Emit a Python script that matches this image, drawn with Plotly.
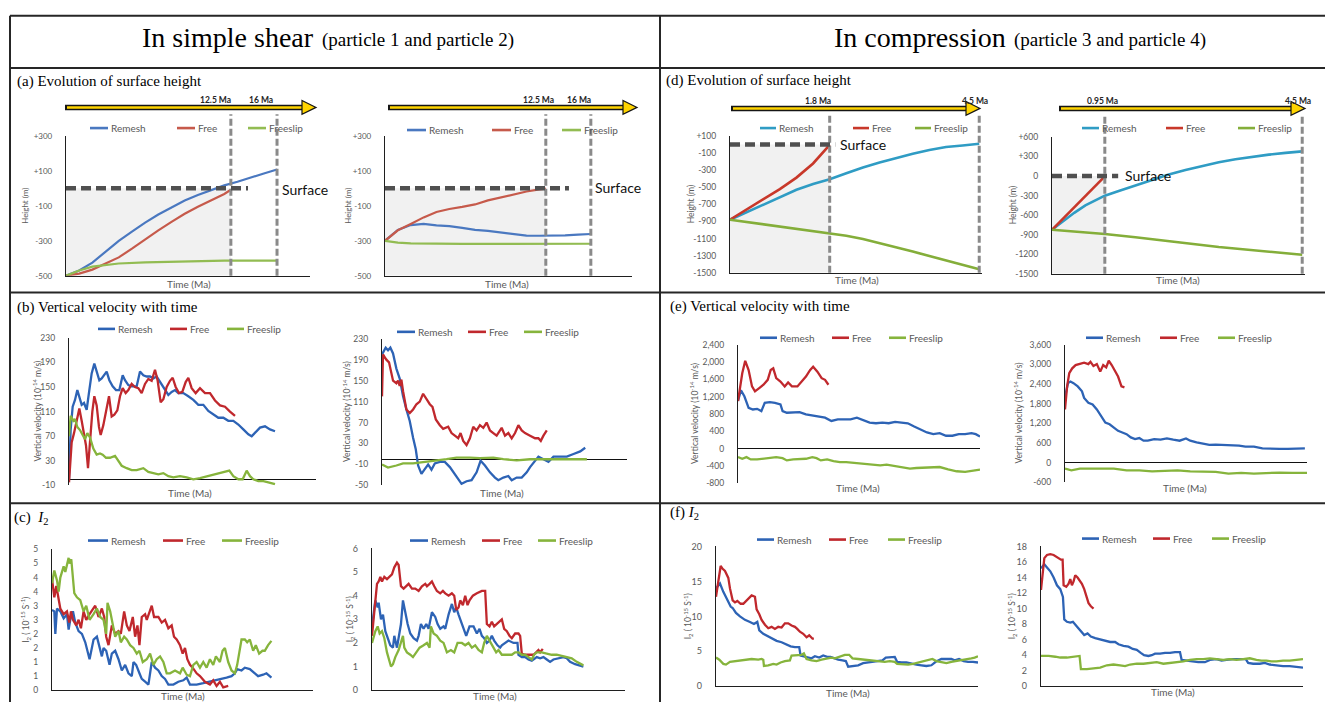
import plotly.graph_objects as go

W, H = 1325, 707
SANS = "Lato, 'Open Sans', sans-serif"
SERIF = "'Liberation Serif', 'Times New Roman', serif"
GREY = "#595959"
AXIS = "#1f1f1f"
FRAME = "#262626"
NAMES = ["Remesh", "Free", "Freeslip"]

# ======================= DATA =======================
# (a) surface height, simple shear, particle 1  (time in Ma, height in m)
A1_REMESH_T = [0, 1, 2, 3, 4, 5, 6, 7, 8, 9, 10, 11, 12, 13, 14, 15, 16]
A1_REMESH_H = [-500, -470, -425, -360, -300, -248, -196, -150, -108, -70, -38, -10, 17, 38, 63, 85, 108]
A1_FREE_T = [0, 1, 2, 3, 4, 5, 6, 7, 8, 9, 10, 11, 12, 12.5]
A1_FREE_H = [-500, -488, -465, -432, -395, -345, -290, -240, -192, -145, -105, -70, -32, -8]
A1_FREESLIP_T = [0, 1, 2, 3, 4, 6, 8, 10, 12, 14, 16]
A1_FREESLIP_H = [-500, -470, -448, -437, -430, -424, -420, -417, -414, -413, -414]
A1_EVENTS = [12.5, 16]
A1_EVENT_LABELS = ["12.5 Ma", "16 Ma"]

# (a) particle 2
A2_REMESH_T = [0, 1, 2, 3, 4, 5, 6, 7, 8, 9, 10, 11, 12, 13, 14, 15, 16]
A2_REMESH_H = [-300, -238, -210, -203, -212, -216, -226, -238, -243, -252, -262, -270, -271, -271, -269, -265, -261]
A2_FREE_T = [0, 1, 2, 3, 4, 5, 6, 7, 8, 9, 10, 11, 12, 12.5]
A2_FREE_H = [-300, -240, -204, -166, -135, -118, -106, -92, -69, -51, -36, -18, -6, -1]
A2_FREESLIP_T = [0, 1, 2, 4, 6, 8, 10, 12, 14, 16]
A2_FREESLIP_H = [-300, -310, -315, -318, -318, -318, -317, -317, -317, -317]
A2_EVENTS = [12.5, 16]
A2_EVENT_LABELS = ["12.5 Ma", "16 Ma"]

# (d) surface height, compression, particle 3
D1_REMESH_T = [0, 0.3, 0.6, 0.9, 1.2, 1.5, 1.8, 2.1, 2.4, 2.7, 3.0, 3.3, 3.6, 3.9, 4.2, 4.5]
D1_REMESH_H = [-880, -790, -702, -613, -530, -462, -407, -337, -268, -210, -157, -107, -65, -30, -11, 8]
D1_FREE_T = [0, 0.3, 0.6, 0.9, 1.2, 1.5, 1.8]
D1_FREE_H = [-880, -760, -637, -521, -387, -222, -4]
D1_FREESLIP_T = [0, 0.6, 1.2, 1.8, 2.1, 2.4, 2.7, 3.0, 3.3, 3.6, 3.9, 4.2, 4.5]
D1_FREESLIP_H = [-880, -932, -982, -1036, -1067, -1105, -1151, -1201, -1251, -1305, -1355, -1405, -1458]
D1_EVENTS = [1.8, 4.5]
D1_EVENT_LABELS = ["1.8 Ma", "4.5 Ma"]

# (d) particle 4
D2_REMESH_T = [0, 0.2, 0.4, 0.6, 0.8, 0.95, 1.2, 1.5, 1.8, 2.1, 2.4, 2.7, 3.0, 3.3, 3.6, 3.9, 4.2, 4.5]
D2_REMESH_H = [-825, -690, -565, -450, -360, -302, -229, -142, -56, 22, 91, 156, 213, 258, 296, 328, 355, 379]
D2_FREE_T = [0, 0.2, 0.4, 0.6, 0.8, 0.95]
D2_FREE_H = [-825, -650, -475, -300, -135, -5]
D2_FREESLIP_T = [0, 0.95, 1.5, 2.0, 2.5, 3.0, 3.5, 4.0, 4.5]
D2_FREESLIP_H = [-825, -890, -940, -985, -1040, -1090, -1130, -1170, -1208]
D2_EVENTS = [0.95, 4.5]
D2_EVENT_LABELS = ["0.95 Ma", "4.5 Ma"]

# (b) vertical velocity (1e-14 m/s), particle 1 (time in model steps)
B1_REMESH_T = [0, 5, 11, 18, 25, 30, 38, 45, 53, 61, 68, 76, 83, 91, 98, 106, 113, 121, 131, 141, 151, 161, 168, 178, 188, 203, 213, 223, 233, 243, 253, 263, 273, 288, 298, 308, 318, 328, 343, 358, 373, 388, 403, 418, 433, 448, 463, 478, 493, 508, 523, 538, 548, 558, 573, 588, 603, 618]
B1_REMESH_V = [0, 81, 118, 129, 145, 135, 121, 124, 113, 145, 172, 188, 175, 161, 164, 169, 175, 161, 151, 145, 145, 169, 161, 153, 151, 151, 175, 169, 167, 167, 164, 167, 159, 145, 137, 142, 145, 140, 140, 135, 129, 121, 121, 111, 105, 100, 100, 95, 95, 89, 81, 73, 70, 76, 84, 86, 81, 78]
B1_FREE_T = [0, 4, 8, 15, 23, 31, 38, 45, 51, 57, 63, 70, 76, 83, 90, 95, 103, 111, 120, 128, 136, 145, 153, 161, 170, 178, 188, 198, 208, 218, 228, 238, 248, 258, 266, 275, 283, 293, 303, 311, 320, 330, 340, 350, 358, 368, 380, 393, 408, 423, 438, 453, 468, 483, 498]
B1_FREE_V = [-5, 40, 60, 75, 95, 115, 95, 75, 55, 18, 60, 110, 135, 120, 85, 72, 88, 112, 135, 102, 105, 112, 135, 148, 140, 145, 155, 150, 148, 140, 155, 163, 160, 178, 160, 125, 130, 150, 160, 165, 150, 140, 142, 158, 165, 148, 140, 148, 140, 140, 128, 120, 118, 110, 103]
B1_FREESLIP_T = [0, 5, 13, 18, 25, 33, 41, 48, 55, 63, 73, 83, 93, 101, 111, 123, 138, 148, 158, 173, 188, 203, 223, 238, 253, 268, 283, 298, 313, 333, 353, 373, 393, 413, 433, 453, 481, 493, 508, 521, 533, 543, 553, 568, 583, 598, 618]
B1_FREESLIP_V = [70, 103, 95, 98, 85, 80, 72, 65, 75, 68, 50, 40, 42, 40, 35, 35, 38, 30, 22, 18, 15, 15, 18, 12, 10, 8, 10, 5, 3, 5, 3, 0, 2, 5, 8, 10, 14, 5, 0, 0, 14, 5, 0, -3, -3, -5, -8]

# (b) particle 2
B2_REMESH_T = [0, 11, 18, 25, 33, 43, 53, 63, 73, 83, 93, 101, 108, 118, 128, 138, 148, 158, 173, 188, 203, 218, 228, 238, 253, 268, 283, 295, 308, 323, 338, 348, 363, 378, 388, 403, 418, 433, 443, 455, 468, 483, 498, 513, 533, 553, 573, 593, 608]
B2_REMESH_V = [200, 213, 208, 213, 202, 173, 154, 120, 95, 73, 41, 19, -12, -28, -19, -10, -20, -8, -5, -5, -15, -28, -38, -47, -42, -40, -25, -3, -12, -25, -35, -40, -35, -32, -40, -35, -35, -25, -15, -5, 5, 0, -5, 5, 5, 5, 10, 15, 22]
B2_FREE_T = [0, 3, 8, 13, 21, 28, 33, 43, 48, 53, 58, 63, 73, 83, 93, 103, 113, 123, 133, 143, 151, 161, 173, 183, 198, 208, 218, 228, 235, 243, 253, 263, 273, 283, 293, 303, 313, 323, 333, 343, 358, 368, 378, 388, 398, 408, 418, 428, 443, 458, 468, 475, 483, 493]
B2_FREE_V = [120, 200, 195, 190, 185, 165, 150, 145, 150, 140, 152, 130, 95, 88, 95, 105, 110, 125, 115, 105, 100, 76, 65, 58, 62, 50, 45, 40, 50, 35, 27, 40, 62, 55, 65, 60, 70, 55, 50, 45, 60, 45, 50, 40, 50, 65, 55, 50, 45, 40, 40, 35, 45, 55]
B2_FREESLIP_T = [0, 18, 43, 63, 93, 123, 153, 193, 223, 263, 293, 333, 363, 403, 443, 483, 523, 563, 613]
B2_FREESLIP_V = [-10, -16, -12, -8, -8, -5, -3, 0, 3, 3, 2, 3, 0, -2, 0, 0, 0, 0, 0]

# (e) vertical velocity, particle 3
E1_REMESH_T = [0, 7, 15, 25, 35, 45, 55, 63, 75, 87, 100, 105, 115, 130, 145, 160, 175, 190, 205, 220, 235, 250, 265, 280, 295, 310, 325, 340, 355, 370, 385, 400, 415, 430, 445, 460, 475, 490, 505, 520, 535, 550, 560, 570]
E1_REMESH_V = [1100, 1350, 1210, 944, 906, 920, 868, 1058, 1073, 1058, 1020, 868, 830, 830, 845, 792, 770, 739, 716, 641, 679, 679, 679, 716, 663, 603, 588, 603, 588, 618, 603, 588, 512, 451, 375, 337, 360, 300, 300, 337, 337, 360, 337, 284]
E1_FREE_T = [0, 5, 10, 17, 25, 33, 40, 50, 60, 70, 77, 83, 90, 100, 110, 118, 127, 140, 150, 160, 170, 177, 187, 197, 205, 213]
E1_FREE_V = [1100, 1437, 1740, 2028, 1816, 1437, 1323, 1399, 1475, 1589, 1816, 1854, 1627, 1551, 1437, 1528, 1437, 1437, 1551, 1664, 1816, 1892, 1778, 1627, 1589, 1475]
E1_FREESLIP_T = [0, 10, 20, 30, 45, 60, 75, 90, 105, 115, 130, 145, 160, 175, 185, 195, 210, 225, 240, 255, 270, 285, 305, 320, 335, 350, 370, 390, 405, 420, 435, 455, 475, 495, 515, 535, 555, 570]
E1_FREESLIP_V = [-193, -231, -193, -246, -246, -231, -216, -193, -216, -269, -246, -246, -231, -193, -216, -269, -246, -284, -307, -307, -322, -345, -368, -383, -383, -368, -398, -436, -459, -444, -436, -436, -421, -474, -519, -534, -497, -482]

# (e) particle 4
E2_REMESH_T = [0, 2, 7, 13, 20, 30, 40, 45, 55, 65, 75, 85, 95, 105, 115, 125, 135, 145, 155, 165, 175, 185, 195, 210, 225, 240, 255, 270, 285, 295, 310, 325, 340, 355, 375, 395, 410, 425, 445, 465, 485, 505, 525, 545, 565]
E2_REMESH_V = [1900, 2126, 2427, 2477, 2427, 2327, 2177, 1976, 1826, 1776, 1625, 1425, 1224, 1174, 1074, 974, 924, 873, 773, 723, 753, 673, 673, 723, 703, 743, 703, 673, 743, 673, 623, 573, 543, 553, 543, 553, 523, 493, 493, 442, 422, 422, 422, 422, 442]
E2_FREE_T = [0, 5, 10, 17, 25, 35, 45, 55, 60, 67, 75, 83, 90, 97, 103, 110, 117, 125, 133, 140]
E2_FREE_V = [1625, 2327, 2728, 2878, 2978, 3008, 3049, 3008, 3078, 2948, 3008, 2778, 2978, 2908, 3109, 2978, 2828, 2628, 2327, 2297]
E2_FREESLIP_T = [0, 15, 35, 55, 85, 115, 145, 175, 205, 235, 265, 295, 325, 355, 385, 415, 445, 475, 505, 535, 570]
E2_FREESLIP_V = [-179, -229, -179, -179, -159, -179, -229, -229, -259, -249, -229, -259, -279, -279, -329, -309, -329, -309, -299, -309, -309]

# (c) I2 (1e-15 s^-1), particle 1
C1_REMESH_T = [0, 7, 10, 15, 25, 35, 45, 50, 55, 63, 70, 80, 90, 100, 113, 125, 135, 143, 150, 155, 163, 173, 180, 190, 200, 210, 220, 230, 240, 245, 253, 263, 270, 280, 290, 300, 310, 320, 330, 340, 350, 365, 380, 395, 405, 415, 435, 455, 475, 495, 510, 525, 540, 550, 557, 570, 580, 595, 610, 620, 635, 645, 660]
C1_REMESH_V = [2.85, 2.8, 2.0, 2.9, 2.8, 2.55, 2.7, 2.15, 2.5, 2.8, 2.4, 2.1, 2.0, 1.7, 1.1, 1.8, 1.9, 1.5, 1.2, 1.5, 1.4, 0.9, 1.3, 1.4, 1.1, 0.7, 0.9, 0.6, 0.5, 1.0, 0.9, 0.6, 0.4, 0.3, 0.2, 1.0, 0.8, 0.7, 0.5, 0.4, 0.2, 0.2, 0.3, 0.35, 0.45, 0.2, 0.2, 0.25, 0.3, 0.35, 0.4, 0.45, 0.5, 0.6, 0.75, 0.7, 0.8, 0.75, 0.6, 0.5, 0.55, 0.6, 0.45]
C1_FREE_T = [0, 7, 13, 20, 25, 35, 45, 52, 57, 63, 73, 80, 87, 95, 103, 113, 130, 140, 150, 157, 163, 170, 180, 190, 200, 207, 217, 225, 233, 243, 250, 257, 263, 270, 280, 285, 300, 307, 320, 330, 340, 350, 360, 367, 375, 385, 393, 400, 407, 415, 423, 435, 445, 460, 475, 485, 495, 505, 515, 530]
C1_FREE_V = [3.95, 3.3, 3.7, 3.3, 2.9, 2.7, 2.8, 2.4, 2.8, 2.5, 2.3, 2.5, 2.2, 2.8, 2.5, 2.7, 3.0, 2.6, 2.9, 2.6, 1.9, 1.6, 2.3, 2.0, 2.1, 2.0, 2.8, 2.3, 2.1, 2.6, 1.9, 2.3, 1.6, 2.6, 2.7, 2.5, 3.0, 2.6, 2.6, 2.4, 2.5, 2.2, 2.3, 1.9, 1.8, 1.6, 1.3, 1.5, 1.1, 0.9, 0.8, 0.6, 0.5, 0.3, 0.2, 0.35, 0.15, 0.3, 0.1, 0.15]
C1_FREESLIP_T = [0, 7, 15, 20, 25, 35, 40, 50, 53, 58, 67, 75, 85, 95, 103, 113, 125, 135, 145, 155, 163, 167, 175, 183, 190, 200, 207, 217, 225, 235, 245, 255, 263, 273, 285, 295, 305, 315, 325, 335, 345, 355, 370, 385, 393, 405, 415, 425, 435, 445, 455, 465, 475, 485, 493, 505, 513, 520, 530, 540, 550, 557, 563, 570, 580, 587, 595, 605, 613, 623, 633, 640, 650, 660]
C1_FREESLIP_V = [3.8, 4.25, 3.9, 3.5, 4.0, 4.4, 4.2, 4.7, 4.5, 4.65, 3.45, 3.3, 3.2, 2.8, 3.0, 2.5, 2.7, 2.9, 2.6, 2.5, 2.0, 3.1, 2.8, 2.3, 1.9, 2.1, 1.7, 1.9, 1.8, 1.6, 1.5, 1.3, 1.4, 1.0, 1.1, 1.3, 0.9, 1.1, 1.2, 1.0, 0.6, 0.6, 0.7, 0.6, 0.8, 0.55, 0.5, 0.9, 1.0, 0.8, 1.0, 0.8, 1.1, 0.9, 1.2, 1.0, 1.4, 1.5, 1.0, 0.7, 0.6, 0.9, 1.3, 1.8, 1.8, 1.7, 1.8, 1.4, 1.6, 1.3, 1.4, 1.4, 1.6, 1.75]

# (c) particle 2
C2_REMESH_T = [0, 10, 17, 20, 27, 33, 40, 47, 55, 63, 67, 75, 80, 87, 93, 100, 107, 115, 125, 135, 140, 147, 155, 163, 170, 180, 190, 197, 205, 215, 220, 230, 240, 247, 253, 260, 267, 275, 283, 293, 305, 315, 323, 330, 337, 345, 353, 360, 367, 377, 385, 390, 400, 410, 425, 437, 440, 450, 460, 470, 480, 495, 505, 515, 525, 535, 545, 560, 575, 585, 595, 610, 625, 635]
C2_REMESH_V = [2.7, 3.8, 3.5, 3.7, 3.0, 3.2, 2.5, 2.2, 1.9, 1.8, 2.3, 1.8, 2.2, 2.8, 3.8, 3.3, 2.8, 2.4, 2.2, 2.1, 2.3, 2.8, 2.6, 2.8, 2.6, 3.3, 3.1, 2.8, 2.6, 2.7, 2.6, 3.2, 3.65, 3.3, 3.5, 3.2, 2.9, 2.6, 2.3, 2.7, 2.7, 2.4, 2.6, 2.3, 2.2, 2.0, 2.1, 2.3, 2.1, 1.9, 1.8, 1.9, 2.0, 2.1, 2.0, 2.0, 1.5, 1.4, 1.4, 1.3, 1.25, 1.4, 1.35, 1.4, 1.3, 1.2, 1.3, 1.35, 1.4, 1.35, 1.2, 1.1, 1.05, 1.0]
C2_FREE_T = [0, 5, 10, 15, 20, 25, 30, 37, 45, 53, 60, 67, 75, 80, 87, 95, 103, 110, 120, 130, 140, 150, 160, 165, 173, 180, 187, 195, 205, 213, 220, 230, 240, 247, 253, 260, 265, 273, 280, 287, 293, 303, 315, 330, 340, 345, 353, 360, 367, 375, 385, 390, 397, 405, 413, 420, 430, 440, 445, 450, 460, 475, 485, 493, 500, 505, 513]
C2_FREE_V = [2.3, 3.0, 3.96, 4.5, 4.6, 4.8, 4.6, 4.8, 4.7, 4.8, 4.9, 5.2, 5.4, 5.3, 4.4, 4.3, 4.4, 4.5, 4.3, 4.3, 4.2, 4.4, 4.5, 4.4, 4.5, 4.6, 4.4, 4.2, 4.1, 4.2, 4.1, 4.0, 4.1, 4.0, 3.4, 3.5, 3.8, 3.6, 4.0, 3.6, 3.8, 4.0, 4.1, 4.2, 4.2, 2.8, 2.7, 2.9, 2.7, 2.8, 2.9, 3.0, 2.6, 2.5, 2.3, 2.2, 2.4, 2.4, 2.3, 1.55, 1.5, 1.5, 1.5, 1.6, 1.7, 1.6, 1.75]
C2_FREESLIP_T = [0, 10, 17, 23, 30, 37, 45, 50, 57, 63, 70, 80, 87, 93, 97, 105, 115, 123, 133, 143, 155, 165, 173, 177, 185, 195, 205, 215, 225, 237, 247, 257, 270, 280, 290, 300, 310, 320, 330, 337, 345, 353, 363, 373, 380, 390, 405, 420, 430, 440, 450, 460, 470, 480, 487, 495, 510, 525, 540, 555, 570, 585, 600, 615, 630, 635]
C2_FREESLIP_V = [2.0, 2.5, 2.7, 2.4, 2.5, 2.2, 1.6, 1.3, 1.0, 1.1, 1.4, 1.7, 2.0, 2.3, 1.8, 1.6, 1.5, 1.4, 1.6, 1.8, 1.9, 2.0, 1.8, 2.7, 2.4, 2.3, 2.1, 2.0, 1.6, 1.7, 1.6, 2.0, 2.0, 1.9, 2.0, 1.8, 1.9, 1.7, 1.6, 2.0, 2.3, 2.1, 1.9, 1.6, 1.7, 1.5, 1.5, 1.5, 1.6, 1.6, 1.5, 1.5, 1.4, 1.3, 1.5, 1.6, 1.6, 1.55, 1.5, 1.5, 1.45, 1.4, 1.35, 1.2, 1.1, 1.05]

# (f) I2, particle 3
F1_REMESH_T = [0, 12, 22, 32, 44, 50, 60, 72, 87, 102, 114, 124, 130, 142, 154, 167, 182, 197, 210, 224, 237, 250, 254, 262, 272, 287, 297, 310, 322, 334, 344, 354, 367, 380, 390, 397, 410, 427, 442, 457, 472, 487, 500, 510, 527, 537, 544, 557, 572, 587, 602, 617, 632, 647, 660, 677, 697, 707, 717, 730, 744, 757, 772, 787]
F1_REMESH_V = [14.0, 14.7, 13.5, 12.5, 11.4, 11.2, 10.5, 10.0, 9.5, 9.2, 8.9, 9.2, 8.0, 7.5, 7.2, 6.8, 6.5, 6.3, 6.0, 5.7, 5.6, 5.6, 4.4, 4.3, 4.1, 4.0, 4.3, 4.1, 4.4, 4.2, 4.2, 4.0, 3.8, 3.7, 3.6, 2.8, 2.9, 3.0, 3.3, 3.4, 3.5, 3.6, 3.7, 4.1, 4.2, 4.2, 3.5, 3.4, 3.4, 3.2, 3.1, 3.0, 2.9, 3.0, 3.5, 3.9, 3.9, 3.9, 3.7, 3.9, 3.6, 3.5, 3.5, 3.4]
F1_FREE_T = [0, 7, 14, 20, 27, 37, 42, 50, 57, 64, 74, 82, 90, 100, 107, 117, 122, 130, 137, 147, 157, 167, 177, 187, 197, 207, 217, 227, 237, 244, 252, 262, 272, 280, 290, 294]
F1_FREE_V = [12.8, 15.4, 17.2, 16.8, 16.5, 15.5, 14.0, 12.3, 12.0, 12.2, 11.8, 11.8, 12.2, 12.8, 13.0, 12.8, 11.0, 10.3, 9.5, 8.8, 8.3, 8.5, 8.2, 8.5, 8.4, 9.0, 9.0, 8.7, 8.5, 8.2, 7.8, 7.5, 7.0, 7.3, 6.8, 6.8]
F1_FREESLIP_T = [0, 10, 22, 30, 42, 57, 72, 87, 107, 127, 137, 142, 144, 157, 172, 182, 194, 207, 222, 227, 242, 257, 264, 272, 287, 302, 317, 332, 347, 357, 372, 387, 400, 410, 427, 447, 467, 487, 507, 522, 537, 544, 562, 577, 592, 607, 622, 637, 650, 662, 677, 692, 707, 722, 737, 752, 767, 777, 787]
F1_FREESLIP_V = [4.1, 3.8, 3.2, 3.1, 3.5, 3.6, 3.6, 3.8, 3.9, 3.8, 3.9, 3.8, 2.9, 3.0, 3.2, 3.1, 3.4, 3.6, 3.7, 4.4, 4.4, 4.5, 4.7, 3.9, 3.7, 3.6, 3.8, 4.0, 4.1, 4.0, 4.3, 4.5, 4.5, 4.0, 3.9, 3.8, 3.7, 3.6, 3.5, 3.6, 3.5, 3.2, 3.1, 3.1, 3.2, 3.4, 3.6, 3.8, 3.9, 3.6, 3.5, 3.3, 3.5, 3.6, 3.8, 3.9, 4.0, 4.1, 4.3]

# (f) particle 4
F2_REMESH_T = [0, 10, 18, 28, 38, 48, 58, 66, 70, 78, 88, 96, 106, 116, 123, 130, 140, 150, 163, 178, 193, 208, 223, 233, 248, 263, 276, 288, 300, 310, 323, 333, 343, 358, 373, 388, 403, 418, 423, 438, 453, 473, 493, 508, 528, 543, 558, 578, 598, 616, 623, 638, 658, 673, 688, 708, 728, 748, 763, 778, 788]
F2_REMESH_V = [15.2, 15.7, 15.3, 14.8, 14.0, 13.0, 12.5, 11.5, 8.6, 8.3, 8.2, 8.3, 7.8, 7.3, 7.0, 6.6, 6.8, 6.4, 6.2, 6.0, 5.8, 5.7, 5.7, 5.4, 5.2, 5.1, 4.8, 4.7, 4.3, 4.0, 3.9, 4.0, 4.2, 4.2, 4.3, 4.3, 4.4, 4.4, 3.4, 3.3, 3.2, 3.1, 3.1, 3.4, 3.5, 3.3, 3.4, 3.5, 3.5, 3.5, 3.0, 2.9, 2.9, 3.0, 2.8, 2.7, 2.6, 2.6, 2.5, 2.4, 2.4]
F2_FREE_T = [0, 5, 10, 18, 28, 38, 46, 53, 60, 65, 68, 76, 83, 88, 93, 98, 103, 110, 116, 123, 130, 136, 143, 150, 158]
F2_FREE_V = [12.4, 14.4, 16.5, 16.9, 17.0, 16.9, 16.7, 16.5, 16.3, 16.3, 13.0, 12.8, 13.2, 13.8, 13.0, 13.5, 14.3, 14.0, 13.6, 13.2, 12.5, 11.5, 10.7, 10.3, 10.0]
F2_FREESLIP_T = [0, 23, 43, 58, 78, 98, 116, 120, 138, 158, 178, 198, 218, 238, 253, 268, 288, 308, 328, 348, 368, 388, 408, 428, 448, 468, 488, 508, 528, 548, 568, 588, 608, 628, 648, 663, 678, 693, 708, 728, 748, 768, 788]
F2_FREESLIP_V = [3.9, 3.9, 3.8, 3.7, 3.7, 3.8, 3.9, 2.2, 2.2, 2.3, 2.4, 2.7, 2.8, 2.7, 2.6, 2.8, 2.9, 2.9, 3.0, 3.1, 2.9, 3.0, 3.1, 3.2, 3.4, 3.5, 3.5, 3.6, 3.5, 3.4, 3.5, 3.4, 3.5, 3.6, 3.4, 3.3, 3.3, 3.2, 3.2, 3.3, 3.3, 3.4, 3.5]

# ---- tick values / labels ----
A_TICKS = [300, 100, -100, -300, -500]
A_TICKTEXT = ["+300", "+100", "-100", "-300", "-500"]
D1_TICKS = [100, -100, -300, -500, -700, -900, -1100, -1300, -1500]
D1_TICKTEXT = ["+100", "-100", "-300", "-500", "-700", "-900", "-1100", "-1300", "-1500"]
D2_TICKS = [600, 300, 0, -300, -600, -900, -1200, -1500]
D2_TICKTEXT = ["+600", "+300", "0", "-300", "-600", "-900", "-1200", "-1500"]
B1_TICKS = [230, 190, 150, 110, 70, 30, -10]
B2_TICKS = [230, 190, 150, 110, 70, 30, -10, -50]
E1_TICKS = [2400, 2000, 1600, 1200, 800, 400, 0, -400, -800]
E1_TICKTEXT = ["2,400", "2,000", "1,600", "1,200", "800", "400", "0", "-400", "-800"]
E2_TICKS = [3600, 3000, 2400, 1800, 1200, 600, 0, -600]
E2_TICKTEXT = ["3,600", "3,000", "2,400", "1,800", "1,200", "600", "0", "-600"]
C1_TICKS = [0, 0.5, 1, 1.5, 2, 2.5, 3, 3.5, 4, 4.5, 5]
C1_TICKTEXT = ["0", "1", "1", "2", "2", "3", "3", "4", "4", "5", "5"]
C2_TICKS = [0, 1, 2, 3, 4, 5, 6]
F1_TICKS = [0, 5, 10, 15, 20]
F2_TICKS = [0, 2, 4, 6, 8, 10, 12, 14, 16, 18]

# ======================= STYLE / LAYOUT =======================
COL_A = {"Remesh": "#4a78c0", "Free": "#c65a4b", "Freeslip": "#92bc52"}
COL_D = {"Remesh": "#2f9cc4", "Free": "#c8382a", "Freeslip": "#84ae3a"}
COL_S = {"Remesh": "#2d63b5", "Free": "#c0282d", "Freeslip": "#86b43c"}

HEIGHT_LABEL = "Height (m)"
VEL_LABEL = "Vertical velocity (10<sup>-14</sup> m/s)"
I2_LABEL = "I<sub>2</sub> ( 10<sup>-15</sup> S<sup>-1</sup>)"


def px(x):
    return x / W


def py(y):
    return 1 - y / H


def strs(v):
    return [str(t) for t in v]


PANELS = [
    dict(box=(66, 310, 132, 274), xr=[0, 18.5], yr=[-500, 300], tv=A_TICKS, tt=A_TICKTEXT, zero=False, tf=8,
         series=[(A1_REMESH_T, A1_REMESH_H), (A1_FREE_T, A1_FREE_H), (A1_FREESLIP_T, A1_FREESLIP_H)],
         col=COL_A, lw=2.2, leg=(124, [90, 177, 248], 18), ylab=(HEIGHT_LABEL, 25, 8), xlab=(189, 282),
         height=dict(ev=A1_EVENTS, evlab=A1_EVENT_LABELS, evpx=[215, 261], evy=95, arrow=(65, 316, 103),
                     surf_end=13.8, surf_lab=(280, 186), dash_top=110)),
    dict(box=(385, 632, 132, 274), xr=[0, 19.2], yr=[-500, 300], tv=A_TICKS, tt=A_TICKTEXT, zero=False, tf=8,
         series=[(A2_REMESH_T, A2_REMESH_H), (A2_FREE_T, A2_FREE_H), (A2_FREESLIP_T, A2_FREESLIP_H)],
         col=COL_A, lw=2.2, leg=(126, [407, 492, 562], 19), ylab=(HEIGHT_LABEL, 348, 8), xlab=(507, 282),
         height=dict(ev=A2_EVENTS, evlab=A2_EVENT_LABELS, evpx=[538, 579], evy=95, arrow=(388, 637, 103),
                     surf_end=14.3, surf_lab=(593, 184), dash_top=110)),
    dict(box=(730, 982, 132, 271), xr=[0, 4.55], yr=[-1500, 100], tv=D1_TICKS, tt=D1_TICKTEXT, zero=False, tf=8.5,
         series=[(D1_REMESH_T, D1_REMESH_H), (D1_FREE_T, D1_FREE_H), (D1_FREESLIP_T, D1_FREESLIP_H)],
         col=COL_D, lw=2.6, leg=(124, [760, 853, 915], 16), ylab=(HEIGHT_LABEL, 691, 8.5), xlab=(857, 278),
         height=dict(ev=D1_EVENTS, evlab=D1_EVENT_LABELS, evpx=[818, 975], evy=97, arrow=(731, 980, 104),
                     surf_end=1.9, surf_lab=(838, 141), dash_top=110)),
    dict(box=(1052, 1305, 133, 272), xr=[0, 4.55], yr=[-1500, 600], tv=D2_TICKS, tt=D2_TICKTEXT, zero=False, tf=8.5,
         series=[(D2_REMESH_T, D2_REMESH_H), (D2_FREE_T, D2_FREE_H), (D2_FREESLIP_T, D2_FREESLIP_H)],
         col=COL_D, lw=2.6, leg=(124, [1082, 1166, 1238], 17), ylab=(HEIGHT_LABEL, 1013, 8.5), xlab=(1178, 278),
         height=dict(ev=D2_EVENTS, evlab=D2_EVENT_LABELS, evpx=[1102, 1298], evy=97, arrow=(1059, 1305, 104),
                     surf_end=1.19, surf_lab=(1123, 172), dash_top=110)),
    dict(box=(69, 316, 337, 487), xr=[0, 741], yr=[-10, 230], tv=B1_TICKS, tt=strs(B1_TICKS), zero=True, tf=8.5,
         series=[(B1_REMESH_T, B1_REMESH_V), (B1_FREE_T, B1_FREE_V), (B1_FREESLIP_T, B1_FREESLIP_V)],
         col=COL_S, lw=2.3, leg=(328, [98, 170, 227], 17), ylab=(VEL_LABEL, 37, 8.5), xlab=(190, 495)),
    dict(box=(382, 627, 338, 487), xr=[0, 733], yr=[-50, 230], tv=B2_TICKS, tt=strs(B2_TICKS), zero=True, tf=8.5,
         series=[(B2_REMESH_T, B2_REMESH_V), (B2_FREE_T, B2_FREE_V), (B2_FREESLIP_T, B2_FREESLIP_V)],
         col=COL_S, lw=2.3, leg=(331, [397, 468, 524], 18), ylab=(VEL_LABEL, 347, 8.5), xlab=(502, 495)),
    dict(box=(738, 980, 344, 485), xr=[0, 570], yr=[-800, 2400], tv=E1_TICKS, tt=E1_TICKTEXT, zero=True, tf=8.5,
         series=[(E1_REMESH_T, E1_REMESH_V), (E1_FREE_T, E1_FREE_V), (E1_FREESLIP_T, E1_FREESLIP_V)],
         col=COL_S, lw=2.3, leg=(337, [760, 832, 889], 17), ylab=(VEL_LABEL, 694, 8.5), xlab=(858, 490)),
    dict(box=(1065, 1307, 344, 484), xr=[0, 570], yr=[-600, 3600], tv=E2_TICKS, tt=E2_TICKTEXT, zero=True, tf=8.5,
         series=[(E2_REMESH_T, E2_REMESH_V), (E2_FREE_T, E2_FREE_V), (E2_FREESLIP_T, E2_FREESLIP_V)],
         col=COL_S, lw=2.3, leg=(337, [1086, 1160, 1218], 17), ylab=(VEL_LABEL, 1018, 8.5), xlab=(1185, 490)),
    dict(box=(52, 313, 552, 695), xr=[0, 785], yr=[0, 5], tv=C1_TICKS, tt=C1_TICKTEXT, zero=False, tf=8.5,
         series=[(C1_REMESH_T, C1_REMESH_V), (C1_FREE_T, C1_FREE_V), (C1_FREESLIP_T, C1_FREESLIP_V)],
         col=COL_S, lw=2.3, leg=(543, [88, 163, 222], 20), ylab=(I2_LABEL, 25, 8.5), xlab=(183, 701)),
    dict(box=(372, 625, 551, 695), xr=[0, 760], yr=[0, 6], tv=C2_TICKS, tt=strs(C2_TICKS), zero=False, tf=9,
         series=[(C2_REMESH_T, C2_REMESH_V), (C2_FREE_T, C2_FREE_V), (C2_FREESLIP_T, C2_FREESLIP_V)],
         col=COL_S, lw=2.3, leg=(543, [410, 482, 538], 18), ylab=(I2_LABEL, 350, 8.5), xlab=(495, 701)),
    dict(box=(716, 978, 549, 691), xr=[0, 787], yr=[0, 20], tv=F1_TICKS, tt=strs(F1_TICKS), zero=False, tf=9,
         series=[(F1_REMESH_T, F1_REMESH_V), (F1_FREE_T, F1_FREE_V), (F1_FREESLIP_T, F1_FREESLIP_V)],
         col=COL_S, lw=2.3, leg=(542, [757, 829, 888], 17), ylab=(I2_LABEL, 688, 8.5), xlab=(848, 698)),
    dict(box=(1041, 1303, 549, 691), xr=[0, 788], yr=[0, 18], tv=F2_TICKS, tt=strs(F2_TICKS), zero=False, tf=9,
         series=[(F2_REMESH_T, F2_REMESH_V), (F2_FREE_T, F2_FREE_V), (F2_FREESLIP_T, F2_FREESLIP_V)],
         col=COL_S, lw=2.3, leg=(541, [1082, 1153, 1212], 17), ylab=(I2_LABEL, 1012, 8.5), xlab=(1173, 697)),
]

fig = go.Figure()
shapes, annots, axes = [], [], {}


def add_text(x, y, text, size=10, color=GREY, family=SANS, xanchor="center", yanchor="middle", angle=0,
             xref="paper", yref="paper"):
    annots.append(dict(x=x, y=y, xref=xref, yref=yref, text=text, showarrow=False,
                       font=dict(family=family, size=size, color=color), xanchor=xanchor,
                       yanchor=yanchor, textangle=angle))


for i, p in enumerate(PANELS, start=1):
    sx = "" if i == 1 else str(i)
    xa, ya = "x" + sx, "y" + sx
    x0, x1, yt, yb = p["box"]
    axes["xaxis" + sx] = dict(domain=[px(x0), px(x1)], anchor=ya, range=p["xr"], showline=not p["zero"],
                              linecolor=AXIS, linewidth=1.3, showticklabels=False, ticks="", showgrid=False,
                              zeroline=False, fixedrange=True)
    axes["yaxis" + sx] = dict(domain=[py(yb), py(yt)], anchor=xa, range=p["yr"], showline=True,
                              linecolor=AXIS, linewidth=1.3, tickmode="array", tickvals=p["tv"],
                              ticktext=p["tt"], ticks="", ticklabelstandoff=11,
                              tickfont=dict(family=SANS, size=p["tf"], color=GREY), showgrid=False,
                              zeroline=p["zero"], zerolinecolor="#111111", zerolinewidth=1.4, fixedrange=True)
    for (t, v), name in zip(p["series"], NAMES):
        assert len(t) == len(v), (i, name, len(t), len(v))
        fig.add_trace(go.Scatter(x=t, y=v, xaxis=xa, yaxis=ya, mode="lines", name=name,
                                 line=dict(color=p["col"][name], width=p["lw"]),
                                 showlegend=False, hoverinfo="skip"))
    # legend (drawn manually, Excel style)
    ly, lxs, ll = p["leg"]
    for lx, name in zip(lxs, NAMES):
        shapes.append(dict(type="line", xref="paper", yref="paper", x0=px(lx), x1=px(lx + ll),
                           y0=py(ly), y1=py(ly), line=dict(color=p["col"][name], width=2.6)))
        add_text(px(lx + ll + 1), py(ly), name, size=10, xanchor="left")
    # axis titles
    ytxt, yx, ysz = p["ylab"]
    add_text(px(yx), py((yt + yb) / 2), ytxt, size=ysz, angle=-90)
    add_text(px(p["xlab"][0]), py(p["xlab"][1]), "Time (Ma)", size=10)

    hp = p.get("height")
    if hp:
        t_ev0, t_ev1 = hp["ev"]
        ymin = p["yr"][0]
        # shaded (buried) interval
        shapes.append(dict(type="rect", xref=xa, yref=ya, x0=0, x1=t_ev0, y0=ymin, y1=0,
                           fillcolor="#f1f1f1", line=dict(width=0), layer="below"))
        # event dashed verticals
        top = (yb - hp["dash_top"]) / (yb - yt)
        for te in hp["ev"]:
            shapes.append(dict(type="line", xref=xa, yref=ya + " domain", x0=te, x1=te, y0=0, y1=top,
                               line=dict(color="#8a8a8a", width=3, dash="7px,3px")))
        # surface line
        shapes.append(dict(type="line", xref=xa, yref=ya, x0=0, x1=hp["surf_end"], y0=0, y1=0,
                           line=dict(color="#505050", width=4.5, dash="10px,5px")))
        add_text(px(hp["surf_lab"][0]), py(hp["surf_lab"][1]), "Surface", size=14, color="#111111",
                 xanchor="left")
        # yellow time arrow
        ax0, ax1, ay = hp["arrow"]
        hs = ax1 - 14
        shapes.append(dict(type="line", xref="paper", yref="paper", x0=px(ax0), x1=px(hs + 1),
                           y0=py(ay), y1=py(ay), line=dict(color="#151515", width=5.5)))
        shapes.append(dict(type="line", xref="paper", yref="paper", x0=px(ax0 + 2), x1=px(hs + 1),
                           y0=py(ay), y1=py(ay), line=dict(color="#ffd400", width=2.5)))
        shapes.append(dict(type="path", xref="paper", yref="paper",
                           path=f"M{px(hs)},{py(ay - 7)} L{px(ax1)},{py(ay)} L{px(hs)},{py(ay + 7)} Z",
                           fillcolor="#ffd400", line=dict(color="#151515", width=1.2)))
        for lab, lpx in zip(hp["evlab"], hp["evpx"]):
            add_text(px(lpx), py(hp["evy"]), "<b>" + lab + "</b>", size=8.5, color="#262626")

# panel titles
add_text(px(15), py(77), "(a) Evolution of surface height", size=15, color="#000", family=SERIF, xanchor="left")
add_text(px(664), py(76), "(d) Evolution of surface height", size=15, color="#000", family=SERIF, xanchor="left")
add_text(px(15), py(306), "(b) Vertical velocity with time", size=15, color="#000", family=SERIF, xanchor="left")
add_text(px(668), py(305), "(e) Vertical velocity with time", size=15, color="#000", family=SERIF, xanchor="left")
add_text(px(12), py(520), "(c)\u00a0\u00a0<i>I</i><sub>2</sub>", size=15, color="#000", family=SERIF, xanchor="left")
add_text(px(668), py(515), "(f) <i>I</i><sub>2</sub>", size=15, color="#000", family=SERIF, xanchor="left")

# header
add_text(px(316), py(32), "In simple shear", size=28, color="#000", family=SERIF, xanchor="right")
add_text(px(320), py(35), "(particle 1 and particle 2)", size=19, color="#000", family=SERIF, xanchor="left")
add_text(px(1008), py(32), "In compression", size=28, color="#000", family=SERIF, xanchor="right")
add_text(px(1012), py(35), "(particle 3 and particle 4)", size=19, color="#000", family=SERIF, xanchor="left")

# frame
FRAME_LINES = [(10, 10, 1325, 10), (10, 10, 10, 707), (10, 63, 1325, 63), (10, 291, 1325, 291),
               (10, 505, 1325, 505), (660, 10, 660, 707)]
for fx0, fy0, fx1, fy1 in FRAME_LINES:
    shapes.append(dict(type="line", xref="paper", yref="paper", x0=px(fx0), y0=py(fy0), x1=px(fx1),
                       y1=py(fy1), line=dict(color=FRAME, width=2)))

fig.update_layout(width=W, height=H, autosize=False, margin=dict(l=0, r=0, t=0, b=0),
                  paper_bgcolor="white", plot_bgcolor="white", showlegend=False,
                  shapes=shapes, annotations=annots, **axes)
fig.write_html("out.html", config={"displayModeBar": False},
               post_script="document.body.style.margin='0px';document.body.style.overflow='hidden';")
